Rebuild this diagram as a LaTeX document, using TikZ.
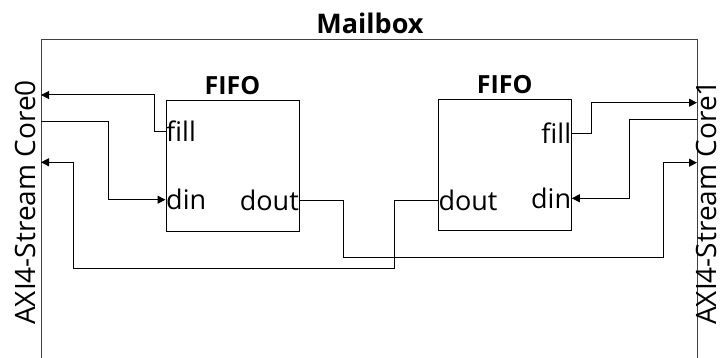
\documentclass[tikz,border=0pt]{standalone}
\usepackage{fontspec}
\setmainfont{Open Sans}
\usetikzlibrary{arrows.meta, positioning, calc}
\tikzset{
    fifo/.style={rectangle, draw, line width=1pt, minimum width=133pt, minimum height=131pt, inner sep=0pt},
    port/.style={inner sep=0.5pt, font=\fontsize{27}{30}\selectfont},
    heading/.style={inner sep=0pt, font=\fontsize{27}{30}\selectfont\bfseries},
    side/.style={rotate=90, anchor=west, inner sep=0pt, font=\fontsize{28}{31}\selectfont},
    wire/.style={draw, line width=1pt},
    arrow/.style={wire, -{Triangle[length=8pt, width=8pt]}}
}

\begin{document}
\begin{tikzpicture}[x=1pt, y=-1pt]
    \useasboundingbox (0,0) rectangle (724,358);

    % Mailbox frame (open at the bottom)
    \draw [line width=1pt, black!75] (41,358) -- (41,40) -- (697,40) -- (697,358);
    \node (mailbox) [heading] at (370,23) {Mailbox};

    % Side labels
    \node (core0) [side] at (25,325) {AXI4-Stream Core0};
    \node (core1) [side] at (706,325) {AXI4-Stream Core1};

    % FIFOs
    \node (fifoA) [fifo] at (232.5,166.2) {};
    \node (fifoB) [fifo] at (504.8,165) {};
    \node (titleA) [heading, font=\fontsize{25}{28}\selectfont\bfseries, above=5pt of fifoA] {FIFO};
    \node (titleB) [heading, font=\fontsize{25}{28}\selectfont\bfseries, above=5pt of fifoB] {FIFO};

    % Port labels
    \node (aFill) [port, anchor=west] at (fifoA.west |- 0,131.5) {fill};
    \node (aDin)  [port, anchor=west] at (fifoA.west |- 0,199.7) {din};
    \node (aDout) [port, anchor=east] at (fifoA.east |- 0,200.7) {dout};
    \node (bFill) [port, anchor=east] at (fifoB.east |- 0,133.5) {fill};
    \node (bDin)  [port, anchor=east] at (fifoB.east |- 0,198.3) {din};
    \node (bDout) [port, anchor=west] at (fifoB.west |- 0,200.7) {dout};

    % Stream ports on the mailbox border
    \coordinate (c0Fill) at (41,95);
    \coordinate (c0In)   at (41,121.7);
    \coordinate (c0Out)  at (41,162.3);
    \coordinate (c1Fill) at (697,102.7);
    \coordinate (c1In)   at (697,119.3);
    \coordinate (c1Out)  at (697,162.7);

    % Core0 side
    \draw [arrow] (aFill.west) -- ++(-11,0) |- (c0Fill);
    \draw [arrow] (c0In) -- (108,121.7) |- (aDin.west);
    \draw [arrow] (bDout.west) -- (394.3,200.7) -- (394.3,268.3) -- (73.7,268.3) |- (c0Out);

    % Core1 side
    \draw [arrow] (bFill.east) -- ++(19.7,0) |- (c1Fill);
    \draw [arrow] (c1In) -- (629.7,119.3) |- (bDin.east);
    \draw [arrow] (aDout.east) -- (343.3,200.7) -- (343.3,258) -- (663.7,258) |- (c1Out);
\end{tikzpicture}
\end{document}
